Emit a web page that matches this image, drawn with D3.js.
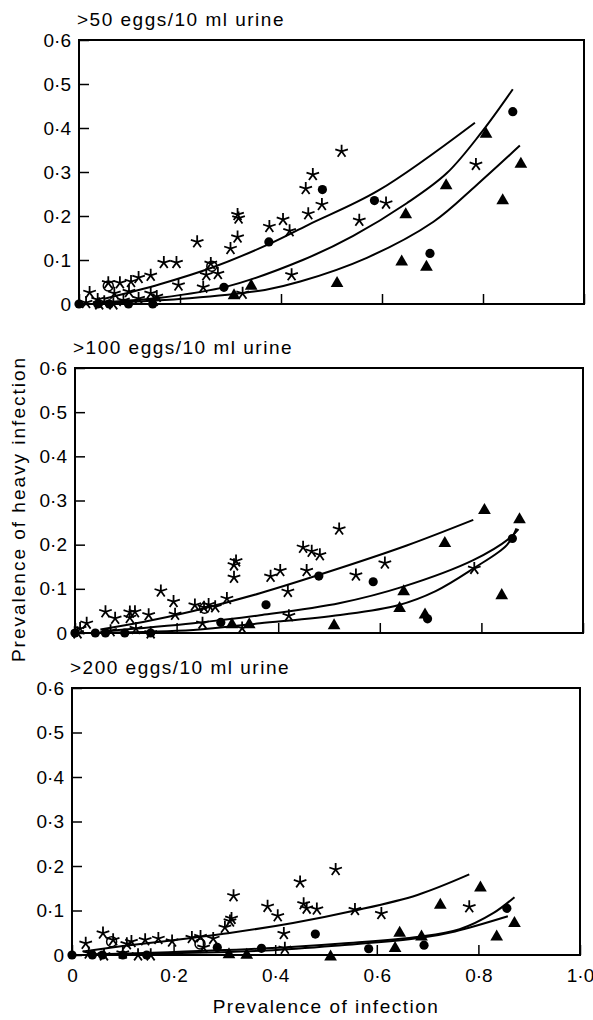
<!DOCTYPE html>
<html>
<head>
<meta charset="utf-8">
<script src="https://cdn.jsdelivr.net/npm/d3@7"></script>
<style>
  body { margin: 0; background: #fff; }
  text { font-family: "Liberation Sans", Arial, sans-serif; fill: #000; }
</style>
</head>
<body>
<div id="container"></div>
<script>
let w = 593;
let h = 1020;

// DATA - [prevalence of infection, prevalence of heavy infection]
let panelTitles = [">50 eggs/10 ml urine", ">100 eggs/10 ml urine", ">200 eggs/10 ml urine"];
let yTicks = [0, 0.1, 0.2, 0.3, 0.4, 0.5, 0.6];
let xTicks = [0, 0.2, 0.4, 0.6, 0.8, 1.0];

let stars50 = [[0.52,0.347],[0.463,0.294],[0.449,0.262],[0.481,0.226],[0.454,0.205],[0.608,0.229],[0.555,0.19],[0.786,0.317],
  [0.421,0.066],[0.314,0.203],[0.316,0.195],[0.314,0.152],[0.30,0.126],[0.234,0.141],[0.377,0.176],[0.404,0.192],[0.417,0.166],
  [0.168,0.094],[0.193,0.094],[0.261,0.092],[0.252,0.066],[0.275,0.069],[0.197,0.043],[0.246,0.038],[0.324,0.024],[0.142,0.065],
  [0.118,0.06],[0.103,0.051],[0.081,0.048],[0.058,0.048],[0.099,0.028],[0.021,0.026],[0.07,0.024],[0.037,0.01],[0.05,0.005],
  [0.014,0.003],[0.142,0.024],[0.154,0.017],[0.148,0.008],[0.04,0],[0.068,0],[0.118,0.012],[0.088,0.008]];
let circles50 = [[0.859,0.437],[0.482,0.26],[0.585,0.235],[0.376,0.141],[0.695,0.115],[0.287,0.038],[0,0],[0.098,0],[0.146,0],[0.037,0],[0.06,0]];
let triangles50 = [[0.806,0.386],[0.875,0.318],[0.727,0.269],[0.839,0.235],[0.647,0.203],[0.639,0.096],[0.688,0.084],[0.511,0.047],[0.341,0.041],[0.307,0.019]];
let rings50 = [[0.058,0.041],[0.263,0.086]];
let curves50 = [
  [[0.05,0.012],[0.16,0.045],[0.264,0.083],[0.376,0.136],[0.454,0.18],[0.593,0.258],[0.784,0.412]],
  [[0.05,0.004],[0.159,0.014],[0.294,0.04],[0.443,0.1],[0.543,0.155],[0.649,0.229],[0.728,0.297],[0.797,0.39],[0.859,0.488]],
  [[0.05,0.002],[0.219,0.013],[0.368,0.032],[0.438,0.051],[0.57,0.105],[0.702,0.187],[0.787,0.27],[0.873,0.36]]
];

let stars100 = [[0.52,0.235],[0.449,0.194],[0.466,0.185],[0.482,0.177],[0.456,0.141],[0.404,0.141],[0.385,0.128],[0.419,0.094],
  [0.553,0.131],[0.61,0.158],[0.317,0.163],[0.313,0.154],[0.313,0.126],[0.299,0.078],[0.169,0.095],[0.194,0.071],[0.197,0.042],
  [0.236,0.063],[0.254,0.058],[0.263,0.064],[0.276,0.059],[0.251,0.022],[0.421,0.039],[0.786,0.146],[0.06,0.048],[0.079,0.033],
  [0.108,0.047],[0.118,0.048],[0.145,0.041],[0.023,0.022],[0.01,0.01],[0.108,0.035],[0.149,0],[0.329,0.011],[0.07,0.005],[0.005,0],[0.12,0.01]];
let circles100 = [[0.861,0.214],[0.48,0.129],[0.587,0.116],[0.376,0.064],[0.694,0.032],[0.287,0.024],[0,0],[0.098,0],[0.149,0],[0.04,0],[0.06,0]];
let triangles100 = [[0.806,0.278],[0.875,0.257],[0.728,0.203],[0.647,0.094],[0.639,0.056],[0.689,0.041],[0.84,0.085],[0.51,0.017],[0.309,0.019],[0.343,0.019]];
let rings100 = [[0.255,0.056]];
let curves100 = [
  [[0.05,0.008],[0.134,0.025],[0.233,0.05],[0.364,0.09],[0.522,0.147],[0.653,0.198],[0.784,0.256]],
  [[0.05,0.003],[0.233,0.022],[0.364,0.04],[0.522,0.068],[0.646,0.105],[0.784,0.165],[0.856,0.215],[0.873,0.235]],
  [[0.05,0.001],[0.233,0.007],[0.364,0.022],[0.522,0.041],[0.636,0.063],[0.71,0.095],[0.784,0.146],[0.85,0.199],[0.869,0.237]]
];

let stars200 = [[0.519,0.192],[0.449,0.164],[0.318,0.133],[0.385,0.109],[0.405,0.088],[0.456,0.115],[0.462,0.105],[0.482,0.103],
  [0.557,0.102],[0.609,0.093],[0.782,0.108],[0.417,0.048],[0.314,0.082],[0.311,0.076],[0.301,0.062],[0.061,0.049],[0.027,0.026],
  [0.081,0.034],[0.108,0.025],[0.117,0.03],[0.144,0.034],[0.17,0.037],[0.197,0.031],[0.236,0.039],[0.253,0.041],[0.278,0.037],
  [0.259,0.017],[0.419,0.015],[0.033,0.004],[0.063,0],[0.1,0.004],[0.13,0],[0.155,0]];
let circles200 = [[0.856,0.105],[0.479,0.047],[0.693,0.022],[0.584,0.014],[0.373,0.015],[0.286,0.017],[0,0],[0.04,0],[0.06,0],[0.1,0],[0.147,0]];
let triangles200 = [[0.804,0.151],[0.725,0.112],[0.871,0.071],[0.836,0.041],[0.645,0.049],[0.688,0.041],[0.636,0.015],[0.509,-0.004],[0.309,0.001],[0.344,0]];
let rings200 = [[0.252,0.025],[0.078,0.03]];
let curves200 = [
  [[0.022,0.008],[0.1,0.02],[0.173,0.03],[0.307,0.049],[0.435,0.072],[0.557,0.1],[0.68,0.135],[0.782,0.181]],
  [[0.03,0.001],[0.158,0.005],[0.382,0.015],[0.531,0.026],[0.684,0.041],[0.763,0.058],[0.829,0.094],[0.871,0.13]],
  [[0.03,0.001],[0.158,0.003],[0.382,0.01],[0.531,0.022],[0.684,0.038],[0.754,0.053],[0.858,0.087]]
];

let stars = [stars50, stars100, stars200];
let circles = [circles50, circles100, circles200];
let triangles = [triangles50, triangles100, triangles200];
let rings = [rings50, rings100, rings200];
let curves = [curves50, curves100, curves200];

// layout of the three boxes (the scan is slightly skewed)
let boxes = [
  {left: 79, right: 584, top: 40, bottom: 304},
  {left: 75, right: 583, top: 368, bottom: 633},
  {left: 72, right: 580, top: 688, bottom: 955}
];

// SVG
let viz = d3.select("#container").append("svg")
    .attr("width", w)
    .attr("height", h)
    .style("background-color", "white")
;

// five armed asterisk used for the star markers
let asterisk = {
  draw: function(ctx, size){
    let r = Math.sqrt(size);
    for(let i = 0; i < 5; i++){
      let a = -Math.PI/2 + i*2*Math.PI/5;
      ctx.moveTo(0, 0);
      ctx.lineTo(r*Math.cos(a), r*Math.sin(a));
    }
  }
};

let fmt = function(d){
  if(d == 0) return "0";
  return d3.format(".1f")(d).replace(".", "\u00b7");
};

boxes.forEach(function(b, i){
  let xScale = d3.scaleLinear().domain([0, 1]).range([b.left, b.right]);
  let yScale = d3.scaleLinear().domain([0, 0.6]).range([b.bottom, b.top]);
  let g = viz.append("g");

  // title
  g.append("text")
    .attr("x", b.left - 2)
    .attr("y", b.top - 14)
    .attr("font-size", 19)
    .attr("letter-spacing", 1.5)
    .text(panelTitles[i]);

  // y axis, ticks pointing inwards
  let yAxis = d3.axisLeft(yScale)
    .tickValues(yTicks)
    .tickSize(-10)
    .tickPadding(8)
    .tickFormat(fmt);
  let ya = g.append("g").attr("transform", "translate(" + b.left + ",0)").call(yAxis);
  ya.select(".domain").remove();
  ya.selectAll("line").attr("stroke", "black").attr("stroke-width", 1.5);
  ya.selectAll("text").attr("font-size", 19).attr("font-family", "Liberation Sans, Arial, sans-serif");

  // x axis, labels only on the bottom panel
  let xAxis = d3.axisBottom(xScale)
    .tickValues(xTicks)
    .tickSize(-10)
    .tickPadding(14)
    .tickFormat(i == 2 ? fmt : function(){ return ""; });
  let xa = g.append("g").attr("transform", "translate(0," + b.bottom + ")").call(xAxis);
  xa.select(".domain").remove();
  xa.selectAll("line").attr("stroke", "black").attr("stroke-width", 1.5);
  xa.selectAll("text").attr("font-size", 19).attr("font-family", "Liberation Sans, Arial, sans-serif");

  // frame
  g.append("rect")
    .attr("x", b.left)
    .attr("y", b.top)
    .attr("width", b.right - b.left)
    .attr("height", b.bottom - b.top)
    .attr("fill", "none")
    .attr("stroke", "black")
    .attr("stroke-width", 2);

  // fitted curves
  let lineMaker = d3.line()
    .x(function(d){ return xScale(d[0]); })
    .y(function(d){ return yScale(d[1]); })
    .curve(d3.curveCatmullRom.alpha(0.5));
  g.selectAll(".curve").data(curves[i]).enter()
    .append("path")
      .attr("class", "curve")
      .attr("d", lineMaker)
      .attr("fill", "none")
      .attr("stroke", "black")
      .attr("stroke-width", 2);

  // markers
  g.selectAll(".ring").data(rings[i]).enter()
    .append("circle")
      .attr("class", "ring")
      .attr("cx", function(d){ return xScale(d[0]); })
      .attr("cy", function(d){ return yScale(d[1]); })
      .attr("r", 5)
      .attr("fill", "none")
      .attr("stroke", "black")
      .attr("stroke-width", 1.5);

  g.selectAll(".star").data(stars[i]).enter()
    .append("path")
      .attr("class", "star")
      .attr("d", d3.symbol(asterisk, 44))
      .attr("transform", function(d){ return "translate(" + xScale(d[0]) + "," + yScale(d[1]) + ")"; })
      .attr("fill", "none")
      .attr("stroke", "black")
      .attr("stroke-width", 1.8);

  g.selectAll(".dot").data(circles[i]).enter()
    .append("circle")
      .attr("class", "dot")
      .attr("cx", function(d){ return xScale(d[0]); })
      .attr("cy", function(d){ return yScale(d[1]); })
      .attr("r", 4.6)
      .attr("fill", "black");

  g.selectAll(".tri").data(triangles[i]).enter()
    .append("path")
      .attr("class", "tri")
      .attr("d", d3.symbol(d3.symbolTriangle, 70))
      .attr("transform", function(d){ return "translate(" + xScale(d[0]) + "," + yScale(d[1]) + ")"; })
      .attr("fill", "black");
});

// axis titles
viz.append("text")
  .attr("transform", "translate(18,509) rotate(-90)")
  .attr("text-anchor", "middle")
  .attr("dominant-baseline", "central")
  .attr("font-size", 19)
  .attr("letter-spacing", 2)
  .text("Prevalence of heavy infection");

viz.append("text")
  .attr("x", 326)
  .attr("y", 1013)
  .attr("text-anchor", "middle")
  .attr("font-size", 19)
  .attr("letter-spacing", 1.5)
  .text("Prevalence of infection");
</script>
</body>
</html>
